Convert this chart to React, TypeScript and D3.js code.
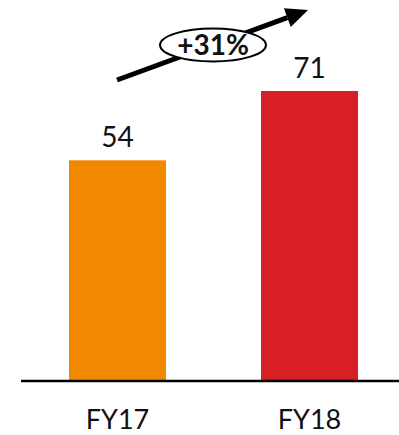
import React from 'react'
import * as d3 from 'd3'

const categories = ['FY17', 'FY18']
const values = [54, 71]
const colors = ['#F08800', '#D81F26']
const growthLabel = '+31%'

const width = 399
const height = 435

const App = () => {
  const xScale = d3.scaleBand<string>().domain(categories).range([21, 406]).paddingInner(0.495).paddingOuter(0.25)
  const yScale = d3.scaleLinear().domain([0, 71]).range([380.5, 91])

  // arrow annotation
  const ax0 = 117
  const ay0 = 80
  const ax1 = 308
  const ay1 = 10
  const ang = Math.atan2(ay1 - ay0, ax1 - ax0)
  const headLen = 22
  const headW = 10
  const bx = ax1 - headLen * Math.cos(ang)
  const by = ay1 - headLen * Math.sin(ang)
  const px = -Math.sin(ang)
  const py = Math.cos(ang)
  const head = `M${ax1},${ay1} L${bx + px * headW},${by + py * headW} L${bx - px * headW},${by - py * headW} Z`

  return (
    <svg
      width={width}
      height={height}
      style={{ position: 'absolute', left: 0, top: 0, background: '#fff' }}
      fontFamily="Lato, 'Open Sans', sans-serif"
    >
      <rect width={width} height={height} fill='#fff' />
      {categories.map((c, i) => (
        <g key={c}>
          <rect
            x={xScale(c)}
            y={yScale(values[i])}
            width={xScale.bandwidth()}
            height={yScale(0) - yScale(values[i])}
            fill={colors[i]}
          />
          <text
            x={(xScale(c) ?? 0) + xScale.bandwidth() / 2}
            y={yScale(values[i]) - 13}
            textAnchor='middle'
            fontSize={28}
            fill='#111'
          >
            {values[i]}
          </text>
          <text
            x={(xScale(c) ?? 0) + xScale.bandwidth() / 2}
            y={429}
            textAnchor='middle'
            fontSize={27}
            fill='#111'
          >
            {c}
          </text>
        </g>
      ))}
      <line x1={21} x2={399} y1={381} y2={381} stroke='#000' strokeWidth={2.5} />

      <line x1={ax0} y1={ay0} x2={bx} y2={by} stroke='#000' strokeWidth={5} />
      <path d={head} fill='#000' />
      <ellipse cx={213} cy={45} rx={53} ry={16.5} fill='#fff' stroke='#000' strokeWidth={2} />
      <text x={213} y={55} textAnchor='middle' fontSize={28} fontWeight='bold' fill='#111'>
        {growthLabel}
      </text>
    </svg>
  )
}

export default App
